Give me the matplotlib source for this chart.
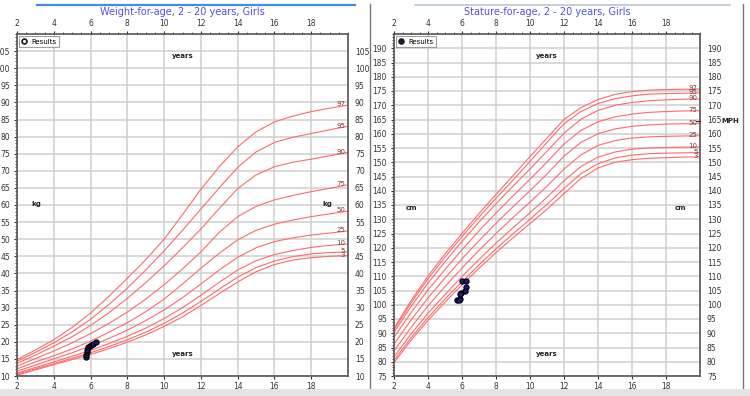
import numpy as np
import matplotlib
matplotlib.use("Agg")
import matplotlib.pyplot as plt
from matplotlib.lines import Line2D
from matplotlib.ticker import MultipleLocator

ages = [2, 3, 4, 5, 6, 7, 8, 9, 10, 11, 12, 13, 14, 15, 16, 17, 18, 19, 20]
pct_names = ["3", "5", "10", "25", "50", "75", "90", "95", "97"]

# weight-for-age (kg)
wt_p3 = [10.2, 11.8, 13.3, 14.8, 16.3, 18.0, 19.9, 22.0, 24.5, 27.3, 30.6, 34.1, 37.5, 40.5, 42.6, 43.9, 44.6, 45.0, 45.2]
wt_p5 = [10.5, 12.1, 13.6, 15.2, 16.8, 18.6, 20.6, 22.8, 25.4, 28.4, 31.8, 35.4, 38.9, 41.7, 43.6, 44.9, 45.7, 46.1, 46.3]
wt_p10 = [10.8, 12.5, 14.1, 15.8, 17.5, 19.5, 21.6, 24.0, 26.8, 30.0, 33.6, 37.4, 41.0, 43.7, 45.5, 46.7, 47.6, 48.2, 48.6]
wt_p25 = [11.4, 13.2, 15.0, 16.8, 18.8, 21.0, 23.4, 26.2, 29.3, 32.9, 36.9, 41.0, 44.7, 47.5, 49.3, 50.4, 51.2, 51.8, 52.4]
wt_p50 = [12.1, 14.1, 15.9, 17.9, 20.2, 22.8, 25.6, 28.8, 32.5, 36.9, 41.5, 45.9, 49.8, 52.6, 54.4, 55.6, 56.6, 57.4, 58.2]
wt_p75 = [12.9, 15.1, 17.3, 19.7, 22.4, 25.4, 28.7, 32.5, 36.7, 41.3, 46.3, 52.0, 56.6, 59.6, 61.5, 62.8, 63.9, 64.9, 65.9]
wt_p90 = [13.7, 16.1, 18.7, 21.5, 24.8, 28.5, 32.7, 37.3, 42.2, 47.5, 53.0, 59.0, 64.8, 68.8, 71.2, 72.5, 73.4, 74.4, 75.4]
wt_p95 = [14.3, 16.9, 19.7, 22.9, 26.6, 30.9, 35.7, 41.0, 46.6, 52.6, 58.8, 65.0, 71.0, 75.5, 78.3, 79.8, 80.9, 82.0, 83.0]
wt_p97 = [14.8, 17.6, 20.6, 24.2, 28.4, 33.3, 38.6, 44.0, 50.0, 57.2, 64.6, 71.2, 77.0, 81.4, 84.3, 86.0, 87.3, 88.3, 89.2]

# stature-for-age (cm)
ht_p3 = [79.7, 87.5, 94.5, 100.9, 107.0, 112.8, 118.3, 123.5, 128.5, 133.5, 139.0, 144.3, 148.0, 150.0, 150.9, 151.4, 151.6, 151.8, 151.9]
ht_p5 = [80.5, 88.4, 95.5, 102.0, 108.1, 114.0, 119.6, 124.9, 130.0, 135.2, 140.8, 146.0, 149.5, 151.5, 152.5, 153.0, 153.2, 153.3, 153.4]
ht_p10 = [81.7, 89.7, 97.0, 103.6, 109.9, 115.9, 121.6, 127.0, 132.3, 137.7, 143.5, 148.5, 151.8, 153.6, 154.6, 155.0, 155.2, 155.3, 155.4]
ht_p25 = [83.8, 92.0, 99.6, 106.4, 112.9, 119.1, 125.0, 130.6, 136.0, 141.6, 147.6, 152.6, 155.9, 157.6, 158.5, 158.9, 159.1, 159.2, 159.3]
ht_p50 = [86.2, 94.6, 102.4, 109.4, 116.1, 122.5, 128.6, 134.4, 140.0, 145.9, 152.1, 157.0, 160.0, 161.7, 162.6, 163.1, 163.4, 163.5, 163.6]
ht_p75 = [88.6, 97.2, 105.2, 112.4, 119.3, 125.9, 132.2, 138.2, 144.0, 150.1, 156.4, 161.2, 164.2, 165.9, 166.9, 167.5, 167.8, 168.0, 168.1]
ht_p90 = [90.3, 99.4, 107.6, 115.1, 122.2, 129.0, 135.4, 141.6, 147.6, 153.9, 160.2, 165.1, 168.2, 170.0, 171.0, 171.6, 171.9, 172.1, 172.2]
ht_p95 = [91.2, 100.6, 109.1, 116.7, 123.9, 130.8, 137.4, 143.7, 150.3, 157.0, 163.5, 167.8, 170.6, 172.3, 173.3, 173.9, 174.1, 174.2, 174.3]
ht_p97 = [91.8, 101.4, 110.1, 117.8, 125.0, 132.0, 138.7, 145.3, 152.0, 158.5, 165.0, 169.2, 172.0, 173.8, 174.8, 175.3, 175.5, 175.6, 175.7]

# patient results
wt_age = [5.75, 5.77, 5.80, 5.83, 5.88, 5.95, 6.05, 6.15, 6.30]
wt_val = [15.5, 16.2, 17.0, 17.7, 18.4, 18.8, 19.1, 19.4, 19.8]
ht_age = [6.02, 6.25, 6.21, 6.15, 5.96, 5.90, 5.86, 5.72, 5.80]
ht_val = [108.2, 108.2, 106.1, 105.0, 104.1, 103.8, 102.0, 101.5, 101.7]

mph = 164.3

wt_curves = [wt_p3, wt_p5, wt_p10, wt_p25, wt_p50, wt_p75, wt_p90, wt_p95, wt_p97]
ht_curves = [ht_p3, ht_p5, ht_p10, ht_p25, ht_p50, ht_p75, ht_p90, ht_p95, ht_p97]

red = "#ff6a6a"
grid_c = "#cfcfcf"
txt_c = "#333333"

fig = plt.figure(figsize=(7.5, 3.96), dpi=100)
fig.patch.set_facecolor("white")

ax1 = fig.add_axes([17/750, 20/396, 331/750, 342/396])
ax2 = fig.add_axes([394/750, 20/396, 306/750, 342/396])


def setup(ax, ylo, yhi, unit, title, hollow):
    ax.set_xlim(2, 20)
    ax.set_ylim(ylo, yhi)
    ax.set_xticks(range(2, 20, 2))
    ax.set_yticks(range(ylo, yhi, 5))
    ax.xaxis.set_minor_locator(MultipleLocator(0.5))
    ax.yaxis.set_minor_locator(MultipleLocator(1))
    ax.grid(True, which="major", color=grid_c, lw=1.1)
    ax.set_axisbelow(True)
    ax.tick_params(axis="x", which="both", top=True, labeltop=True, bottom=True,
                   labelbottom=True, direction="out", labelsize=5.5, colors=txt_c,
                   length=2, pad=2)
    ax.tick_params(axis="x", which="minor", bottom=False, length=1.5)
    ax.tick_params(axis="y", which="both", left=True, right=False, labelleft=True,
                   labelright=True, direction="out", labelsize=5.5, colors=txt_c,
                   length=2, pad=3)
    ax.tick_params(axis="y", which="minor", length=1.5)
    for s in ax.spines.values():
        s.set_color("#555555")
        s.set_linewidth(1.2)
    ax.set_title(title, color="#5050f0", fontsize=7, pad=14)
    ax.text(11, yhi - (yhi - ylo) * 0.065, "years", fontsize=5, fontweight="bold",
            ha="center", va="center", color="#222222")
    ax.text(11, ylo + (yhi - ylo) * 0.065, "years", fontsize=5, fontweight="bold",
            ha="center", va="center", color="#222222")
    mid = ylo + (yhi - ylo) * 0.4825 + (2 if unit == "kg" else 1)
    ax.text(3.05, mid, unit, fontsize=5, fontweight="bold", ha="center", va="center",
            color="#222222")
    ax.text(18.85, mid, unit, fontsize=5, fontweight="bold", ha="center", va="center",
            color="#222222")
    h = Line2D([], [], marker="o", ls="none", markersize=3.5,
               markerfacecolor="white" if hollow else "#1a1a4a",
               markeredgecolor="#1a1a1a", markeredgewidth=1.2)
    leg = ax.legend([h], ["Results"], loc="upper left", fontsize=5, frameon=True,
                    fancybox=False, handlelength=0.8, handletextpad=0.6,
                    borderpad=0.35, borderaxespad=0.3)
    leg.get_frame().set_edgecolor("#888888")
    leg.get_frame().set_linewidth(0.8)


def curves(ax, data, label_x):
    for name, vals in zip(pct_names, data):
        ax.plot(ages, vals, color=red, lw=0.8, zorder=2)
        ax.text(label_x, vals[-1] + 0.2, name, fontsize=5, color="#7a4040",
                ha="right", va="center", zorder=3)


setup(ax1, 10, 110, "kg", "Weight-for-age, 2 - 20 years, Girls", True)
curves(ax1, wt_curves, 19.85)
ax1.scatter(wt_age, wt_val, s=14, color="#1a1a60", edgecolors="#000000",
            linewidths=0.8, zorder=4)

setup(ax2, 75, 195, "cm", "Stature-for-age, 2 - 20 years, Girls", False)
curves(ax2, ht_curves, 19.85)
ax2.scatter(ht_age, ht_val, s=14, color="#1a1a80", edgecolors="#000000",
            linewidths=0.8, zorder=4)
ax2.plot([19.75, 20], [mph, mph], color="#333333", lw=0.8, clip_on=False, zorder=5)
ax2.text(21.25, mph, "MPH", fontsize=5, fontweight="bold", color="#222222",
         ha="left", va="center")

# page decorations around the two charts
fig.add_artist(Line2D([37/750, 355/750], [391/396, 391/396], color="#3d8fe0", lw=1.6))
fig.add_artist(Line2D([415/750, 730/750], [391/396, 391/396], color="#b8c8d8", lw=1.2))
fig.add_artist(Line2D([370/750, 370/750], [8/396, 392/396], color="#777777", lw=1.0))
fig.add_artist(Line2D([743/750, 743/750], [8/396, 392/396], color="#777777", lw=1.0))
fig.add_artist(Line2D([0, 1], [4/396, 4/396], color="#e4e4e4", lw=5))

fig.savefig("out.png", dpi=100)
